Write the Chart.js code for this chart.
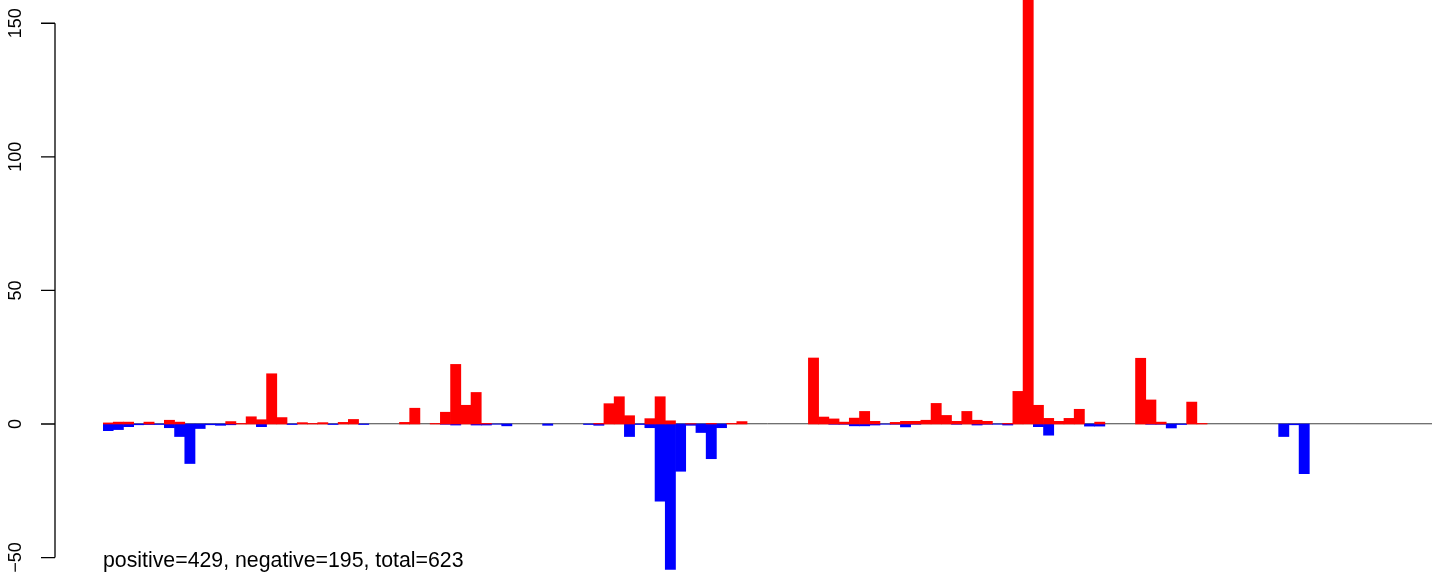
<!DOCTYPE html>
<html>
<head>
<meta charset="utf-8">
<title>positive / negative bins</title>
<script src="https://cdn.jsdelivr.net/npm/chart.js@4.4.0/dist/chart.umd.min.js"></script>
<style>
  html, body { margin: 0; padding: 0; background: #fff; }
  #wrap { width: 1444px; height: 580px; }
</style>
</head>
<body>
<div id="wrap"><canvas id="chart" width="1444" height="580"></canvas></div>
<script>
// ── Data ──────────────────────────────────────────────────────────────────────

// 130 bins, left to right
const BINS = Array.from({ length: 130 }, (_, i) => String(i + 1));

const POSITIVE = [
  0.4, 0.7, 0.7, 0, 0.7, 0, 1.4, 0.7, 0, 0,
  0, 0, 0.9, 0.2, 2.7, 1.6, 18.8, 2.4, 0, 0.5,
  0.2, 0.5, 0, 0.6, 1.7, 0, 0, 0, 0, 0.6,
  5.9, 0, 0.2, 4.4, 22.3, 7.0, 11.8, 0.2, 0, 0,
  0, 0, 0, 0, 0, 0, 0, 0, 0.2, 7.6,
  10.2, 3.1, 0, 2.0, 10.2, 1.2, 0, 0.1, 0, 0.2,
  0, 0.2, 0.9, 0, 0, 0, 0, 0, 0, 24.7,
  2.6, 1.9, 0.7, 2.2, 4.7, 1.0, 0, 0.6, 1.0, 1.0,
  1.4, 7.7, 3.2, 1.0, 4.7, 1.4, 1.0, 0, 0.2, 12.2,
  172, 7.0, 2.1, 1.0, 2.1, 5.5, 0, 0.7, 0, 0,
  0, 24.6, 9.0, 0.7, 0, 0, 8.2, 0.2, 0, 0,
  0, 0, 0, 0, 0, 0, 0, 0, 0, 0,
  0, 0, 0, 0, 0, 0, 0, 0, 0, 0,
];

const NEGATIVE = [
  -2.5, -2.1, -1.0, -0.3, -0.2, -0.2, -1.4, -4.7, -14.8, -1.7,
  -0.3, -0.5, -0.3, 0, 0, -1.0, 0, 0, -0.2, 0,
  0, 0, -0.2, 0, 0, -0.2, 0, 0, 0, 0,
  0, 0, 0, -0.1, -0.4, 0, -0.4, -0.4, -0.1, -0.7,
  0, 0, 0, -0.5, 0, 0, 0, -0.2, -0.5, 0,
  0, -4.7, -0.2, -1.4, -28.9, -54.4, -17.7, -0.5, -3.2, -13.0,
  -1.4, 0, 0, 0, 0, 0, 0, 0, 0, 0,
  0, -0.1, -0.1, -0.7, -0.7, -0.4, -0.1, -0.1, -1.1, -0.1,
  0, 0, 0, -0.1, 0, -0.4, -0.1, -0.1, -0.4, 0,
  0, -1.0, -4.2, 0, 0, 0, -0.8, -0.8, 0, 0,
  0, 0, -0.1, -0.1, -1.5, -0.2, 0, 0, 0, 0,
  0, 0, 0, 0, 0, -4.7, -0.3, -18.6, 0, 0,
  0, 0, 0, 0, 0, 0, 0, 0, 0, 0,
];

const Y_TICKS  = [-50, 0, 50, 100, 150];
const Y_LABELS = ['\u221250', '0', '50', '100', '150'];
const NOTE     = 'positive=429, negative=195, total=623';

// ── R-style axis, zero line and note ─────────────────────────────────────────

const FONT = '"Liberation Sans", Arial, Helvetica, sans-serif';
const AXIS_X = 55;   // px, left of the plot region

const rStyle = {
  id: 'rStyle',
  beforeDatasetsDraw(chart) {
    const { ctx, chartArea, scales: { y } } = chart;
    const y0 = y.getPixelForValue(0) - 0.2;
    ctx.save();
    ctx.strokeStyle = '#000';
    ctx.lineWidth = 0.75;
    ctx.beginPath();
    ctx.moveTo(chartArea.left, y0);
    ctx.lineTo(chartArea.right, y0);
    ctx.stroke();
    ctx.restore();
  },
  afterDraw(chart) {
    const { ctx, scales: { y } } = chart;
    ctx.save();
    ctx.strokeStyle = '#000';
    ctx.lineWidth = 1.3;
    ctx.beginPath();
    ctx.moveTo(AXIS_X, y.getPixelForValue(Y_TICKS[0]));
    ctx.lineTo(AXIS_X, y.getPixelForValue(Y_TICKS[Y_TICKS.length - 1]));
    Y_TICKS.forEach(v => {
      const py = y.getPixelForValue(v);
      ctx.moveTo(AXIS_X - 14, py);
      ctx.lineTo(AXIS_X, py);
    });
    ctx.stroke();

    // tick labels, parallel to the axis (R las=0)
    ctx.fillStyle = '#000';
    ctx.font = '18px ' + FONT;
    ctx.textAlign = 'center';
    ctx.textBaseline = 'alphabetic';
    Y_TICKS.forEach((v, i) => {
      ctx.save();
      ctx.translate(21, y.getPixelForValue(v));
      ctx.rotate(-Math.PI / 2);
      ctx.fillText(Y_LABELS[i], 0, 0);
      ctx.restore();
    });

    ctx.font = '21.3px ' + FONT;
    ctx.textAlign = 'left';
    ctx.fillText(NOTE, 103, 567);
    ctx.restore();
  },
};

// ── Chart ────────────────────────────────────────────────────────────────────

// empty bins -> null, otherwise Chart.js' bar inflation leaves a hairline
const asBars = arr => arr.map(v => (v === 0 ? null : v));

new Chart(document.getElementById('chart'), {
  type: 'bar',
  data: {
    labels: BINS,
    datasets: [
      {
        label: 'positive',
        data: asBars(POSITIVE),
        backgroundColor: '#ff0000',
        borderWidth: 0,
        barPercentage: 1,
        categoryPercentage: 1,
      },
      {
        label: 'negative',
        data: asBars(NEGATIVE),
        backgroundColor: '#0000ff',
        borderWidth: 0,
        barPercentage: 1,
        categoryPercentage: 1,
      },
    ],
  },
  options: {
    responsive: false,
    devicePixelRatio: 1,
    animation: false,
    events: [],
    grouped: false,
    layout: { padding: { left: 103, right: 12, top: 0, bottom: 0 } },
    plugins: {
      legend:  { display: false },
      tooltip: { enabled: false },
    },
    scales: {
      x: { display: false },
      y: { display: false, min: -58.4, max: 158.7 },
    },
  },
  plugins: [rStyle],
});
</script>
</body>
</html>
